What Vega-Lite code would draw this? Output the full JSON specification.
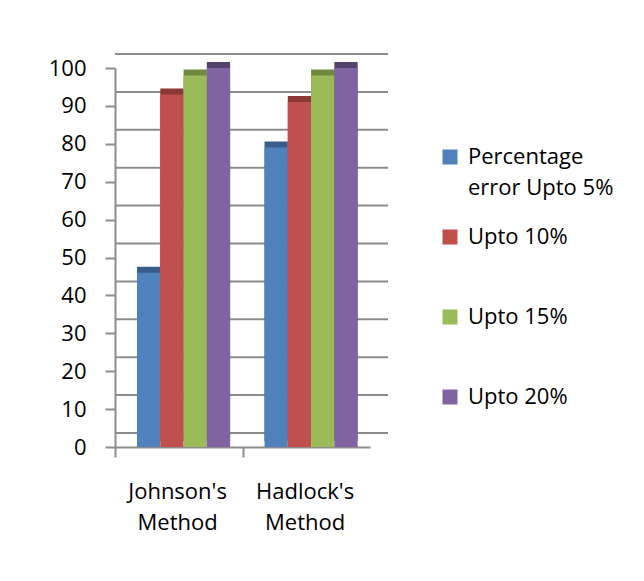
{
  "$schema": "https://vega.github.io/schema/vega-lite/v6.json",
  "width": 255,
  "height": 379,
  "autosize": {"type": "none"},
  "padding": {"left": 115, "top": 68, "right": 274, "bottom": 134},
  "background": "white",
  "config": {"view": {"stroke": null}, "font": "Open Sans", "style": {"guide-label": {"lineHeight": 31}}},
  "datasets": {
    "bars": [
      {"method": "Johnson's Method", "series": "Percentage error Upto 5%", "value": 46},
      {"method": "Johnson's Method", "series": "Upto 10%", "value": 93},
      {"method": "Johnson's Method", "series": "Upto 15%", "value": 98},
      {"method": "Johnson's Method", "series": "Upto 20%", "value": 100},
      {"method": "Hadlock's Method", "series": "Percentage error Upto 5%", "value": 79},
      {"method": "Hadlock's Method", "series": "Upto 10%", "value": 91},
      {"method": "Hadlock's Method", "series": "Upto 15%", "value": 98},
      {"method": "Hadlock's Method", "series": "Upto 20%", "value": 100}
    ],
    "grid": [
      {"v": 0}, {"v": 10}, {"v": 20}, {"v": 30}, {"v": 40}, {"v": 50},
      {"v": 60}, {"v": 70}, {"v": 80}, {"v": 90}, {"v": 100}
    ]
  },
  "layer": [
    {
      "data": {"name": "grid"},
      "mark": {"type": "rule", "xOffset": 18, "x2Offset": 18, "yOffset": -14, "color": "#8c8c8c", "strokeWidth": 2},
      "encoding": {
        "y": {"field": "v", "type": "quantitative", "scale": {"domain": [0, 100], "nice": false},
              "axis": {"title": null, "values": [0, 10, 20, 30, 40, 50, 60, 70, 80, 90, 100], "grid": false,
                       "labelFontSize": 22, "labelColor": "#000000", "labelPadding": 19, "tickSize": 10,
                       "tickColor": "#8c8c8c", "tickWidth": 2, "domainColor": "#8c8c8c", "domainWidth": 2}}
      }
    },
    {
      "data": {"name": "bars"},
      "mark": {"type": "bar", "yOffset": -6, "y2Offset": -6},
      "encoding": {
        "x": {"field": "method", "type": "nominal", "sort": null,
              "scale": {"paddingInner": 0.27, "paddingOuter": 0.135, "align": 0.64}},
        "xOffset": {"field": "series", "type": "nominal",
                    "scale": {"domain": ["Percentage error Upto 5%", "Upto 10%", "Upto 15%", "Upto 20%"]}},
        "y": {"field": "value", "type": "quantitative",
              "axis": {"title": null, "values": [0, 10, 20, 30, 40, 50, 60, 70, 80, 90, 100], "grid": false,
                       "labelFontSize": 22, "labelColor": "#000000", "labelPadding": 19, "tickSize": 10,
                       "tickColor": "#8c8c8c", "tickWidth": 2, "domainColor": "#8c8c8c", "domainWidth": 2}},
        "color": {"field": "series", "type": "nominal",
                  "scale": {"domain": ["Percentage error Upto 5%", "Upto 10%", "Upto 15%", "Upto 20%"],
                            "range": ["#385D8A", "#8C3836", "#71893F", "#54426E"]},
                  "legend": null}
      }
    },
    {
      "data": {"name": "bars"},
      "mark": {"type": "bar"},
      "encoding": {
        "x": {"field": "method", "type": "nominal", "sort": null,
              "scale": {"paddingInner": 0.27, "paddingOuter": 0.135, "align": 0.64},
              "axis": {"title": null, "labelExpr": "split(datum.label, ' ')", "labelFontSize": 22,
                       "labelColor": "#000000", "labelAngle": 0, "labelAlign": "center", "labelLineHeight": 31, "labelBaseline": "top",
                       "tickSize": 10, "tickColor": "#8c8c8c", "tickWidth": 2, "domainColor": "#8c8c8c",
                       "domainWidth": 2, "labelPadding": 24, "tickOffset": -68.5, "labelOffset": 62, "grid": false}},
        "xOffset": {"field": "series", "type": "nominal",
                    "scale": {"domain": ["Percentage error Upto 5%", "Upto 10%", "Upto 15%", "Upto 20%"]}},
        "y": {"field": "value", "type": "quantitative",
              "axis": {"title": null, "values": [0, 10, 20, 30, 40, 50, 60, 70, 80, 90, 100], "grid": false,
                       "labelFontSize": 22, "labelColor": "#000000", "labelPadding": 19, "tickSize": 10,
                       "tickColor": "#8c8c8c", "tickWidth": 2, "domainColor": "#8c8c8c", "domainWidth": 2}},
        "color": {"field": "series", "type": "nominal",
                  "scale": {"domain": ["Percentage error Upto 5%", "Upto 10%", "Upto 15%", "Upto 20%"],
                            "range": ["#4F81BD", "#C0504D", "#9BBB59", "#8064A2"]},
                  "legend": {"orient": "none", "legendX": 324, "legendY": 78, "title": null,
                             "symbolType": "square", "symbolSize": 225, "symbolStrokeWidth": 0,
                             "labelFontSize": 22, "labelColor": "#000000", "rowPadding": 27, "gridAlign": "all",
                             "labelOffset": 7, "labelLimit": 300,
                             "labelExpr": "datum.label == 'Percentage error Upto 5%' ? ['Percentage', 'error Upto 5%'] : datum.label"}}
      }
    }
  ],
  "resolve": {"scale": {"color": "independent"}}
}
